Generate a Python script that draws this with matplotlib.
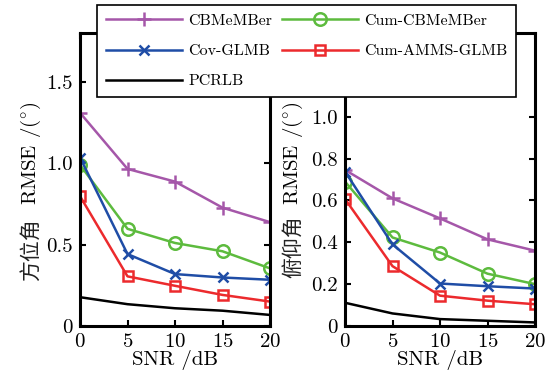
import matplotlib
matplotlib.use("Agg")
import matplotlib.pyplot as plt

plt.rcParams['font.family'] = ['cmr10', 'Noto Sans CJK SC']
plt.rcParams['mathtext.fontset'] = 'cm'
plt.rcParams['axes.formatter.use_mathtext'] = True

snr = [0, 5, 10, 15, 20]
labels = ['CBMeMBer', 'Cum-CBMeMBer', 'Cov-GLMB', 'Cum-AMMS-GLMB', 'PCRLB']

# azimuth RMSE
az_cbmember = [1.31, 0.965, 0.887, 0.727, 0.638]
az_cum_cbmember = [0.99, 0.597, 0.51, 0.459, 0.354]
az_cov_glmb = [1.035, 0.442, 0.319, 0.298, 0.284]
az_cum_amms = [0.798, 0.305, 0.247, 0.191, 0.15]
az_pcrlb = [0.177, 0.134, 0.109, 0.094, 0.068]

# elevation RMSE
el_cbmember = [0.746, 0.61, 0.514, 0.414, 0.36]
el_cum_cbmember = [0.69, 0.423, 0.351, 0.25, 0.2]
el_cov_glmb = [0.738, 0.39, 0.203, 0.19, 0.179]
el_cum_amms = [0.607, 0.286, 0.145, 0.121, 0.104]
el_pcrlb = [0.111, 0.06, 0.033, 0.025, 0.017]

colors = ['#A557A9', '#5DBB3E', '#1F4DA6', '#EC2A2D', 'black']
markers = ['+', 'o', 'x', 's', None]
msizes = [10, 9, 7, 7, 0]

fig = plt.figure(figsize=(5.52, 3.81), dpi=100)
ax1 = fig.add_axes([80 / 552, 55 / 381, 190 / 552, 293 / 381])
ax2 = fig.add_axes([345 / 552, 55 / 381, 190 / 552, 293 / 381])


def draw(ax, series, ylim, yticks, yticklabels, cjk, lx, cy):
    handles = []
    for y, c, m, ms in zip(series, colors, markers, msizes):
        h, = ax.plot(snr, y, color=c, lw=1.8, marker=m, ms=ms,
                     mew=1.8, mfc='none')
        handles.append(h)
    ax.set_xlim(0, 20)
    ax.set_ylim(*ylim)
    ax.set_xticks(snr)
    ax.set_yticks(yticks)
    ax.set_yticklabels(yticklabels)
    ax.tick_params(direction='in', top=True, right=True, labelsize=15,
                   width=1.5, length=4, pad=5)
    for s in ax.spines.values():
        s.set_linewidth(2.2)
    ax.set_xlabel('SNR /dB', fontsize=15, labelpad=-1)
    # y label: mathtext part (CM font) + Chinese part (CJK font)
    ax.set_ylabel('RMSE /($^{\\circ}$)', fontsize=15, va='center', ha='center')
    ax.yaxis.set_label_coords(lx, 0.59)
    ax.text(lx, cy, cjk, transform=ax.transAxes, rotation=90,
            ha='center', va='center', fontsize=15,
            family=['Noto Sans CJK SC'], color='#222222')
    return handles


hs = draw(ax1, [az_cbmember, az_cum_cbmember, az_cov_glmb, az_cum_amms, az_pcrlb],
          (0, 1.8), [0, 0.5, 1.0, 1.5], ['0', '0.5', '1.0', '1.5'],
          '方位角', -0.258, 0.262)
draw(ax2, [el_cbmember, el_cum_cbmember, el_cov_glmb, el_cum_amms, el_pcrlb],
     (0, 1.4), [0, 0.2, 0.4, 0.6, 0.8, 1.0],
     ['0', '0.2', '0.4', '0.6', '0.8', '1.0'],
     '俯仰角', -0.272, 0.27)

# row-major legend order: matplotlib fills columns first
order = [0, 2, 4, 1, 3]
leg = fig.legend([hs[i] for i in order], [labels[i] for i in order],
                 ncol=2, loc='upper left',
                 bbox_to_anchor=(97 / 552, 1 - 5 / 381), borderaxespad=0,
                 fancybox=False, edgecolor='black', framealpha=1,
                 fontsize=11.5, handlelength=4.8, columnspacing=0.6,
                 labelspacing=1.0, borderpad=0.55, handletextpad=0.35)
leg.get_frame().set_linewidth(1.2)

fig.savefig('out.png', dpi=100)
